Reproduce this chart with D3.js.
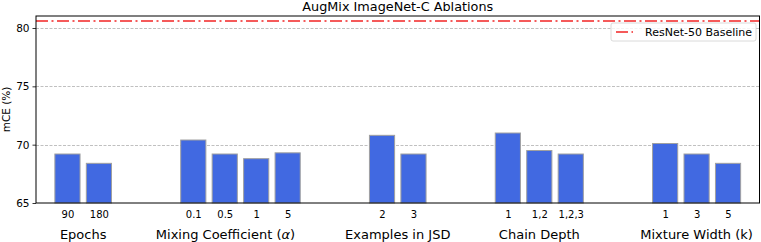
<!DOCTYPE html>
<html>
<head>
<meta charset="utf-8">
<script src="https://cdn.jsdelivr.net/npm/d3@7"></script>
<style>
  body { margin: 0; background: #fff; }
  svg { display: block; font-family: "DejaVu Sans", sans-serif; }
</style>
</head>
<body>
<svg id="canvas" width="761" height="242"></svg>
<script>
// data
let groupNames = ['Epochs', 'Mixing Coefficient', 'Examples in JSD', 'Chain Depth', 'Mixture Width (k)']
let epochLabels = ['90', '180']
let epochValues = [69.2, 68.4]
let mixingLabels = ['0.1', '0.5', '1', '5']
let mixingValues = [70.4, 69.2, 68.8, 69.3]
let jsdLabels = ['2', '3']
let jsdValues = [70.8, 69.2]
let depthLabels = ['1', '1,2', '1,2,3']
let depthValues = [71.0, 69.5, 69.2]
let widthLabels = ['1', '3', '5']
let widthValues = [70.1, 69.2, 68.4]
let baseline = 80.6
let yTicks = [65, 70, 75, 80]

let groupLabels = [epochLabels, mixingLabels, jsdLabels, depthLabels, widthLabels]
let groupValues = [epochValues, mixingValues, jsdValues, depthValues, widthValues]

// flatten into bars, 2 empty slots between groups
let bars = []
let groupCenters = []
let slot = 0
groupValues.forEach((vals, g) => {
    let start = slot
    vals.forEach((v, i) => {
        bars.push({ slot: slot, value: v, label: groupLabels[g][i] })
        slot++
    })
    groupCenters.push({ name: groupNames[g], pos: (start + slot - 1) / 2 })
    slot += 2
})
let nSlots = slot - 2

let plotLeft = 36, plotRight = 759.5, plotTop = 16, plotBottom = 203

let canvas = d3.select('#canvas')

let xScale = d3.scaleLinear()
    .domain([-1, nSlots])
    .range([plotLeft, plotRight])
let slotW = xScale(1) - xScale(0)

let yScale = d3.scaleLinear()
    .domain([65, 81.03])
    .range([plotBottom, plotTop])

// grid
canvas.append('g')
    .selectAll('line')
    .data(yTicks.slice(1))
    .enter()
    .append('line')
    .attr('x1', plotLeft)
    .attr('x2', plotRight)
    .attr('y1', (d) => Math.round(yScale(d)) + 0.5)
    .attr('y2', (d) => Math.round(yScale(d)) + 0.5)
    .attr('stroke', '#b0b0b0')
    .attr('stroke-width', 0.8)
    .attr('stroke-dasharray', '3,1.5')

// bars
canvas.append('g')
    .selectAll('rect')
    .data(bars)
    .enter()
    .append('rect')
    .attr('x', (d) => xScale(d.slot) - slotW * 0.4)
    .attr('width', slotW * 0.8)
    .attr('y', (d) => yScale(d.value))
    .attr('height', (d) => yScale(65) - yScale(d.value))
    .attr('fill', '#4169e1')
    .attr('stroke', '#a0a0a0')
    .attr('stroke-width', 1)

// baseline
canvas.append('line')
    .attr('x1', plotLeft)
    .attr('x2', plotRight)
    .attr('y1', yScale(baseline))
    .attr('y2', yScale(baseline))
    .attr('stroke', '#f55a5a')
    .attr('stroke-width', 2)
    .attr('stroke-dasharray', '12,3.5,2,3.5')

// y axis
let yAxis = d3.axisLeft(yScale)
    .tickValues(yTicks)
    .tickSize(3.5)
    .tickPadding(3)
let yg = canvas.append('g')
    .attr('transform', 'translate(' + plotLeft + ',0)')
    .call(yAxis)
yg.select('.domain').remove()
yg.selectAll('text').attr('font-size', 10.5).attr('fill', '#000').attr('font-family', 'DejaVu Sans')
yg.selectAll('line').attr('stroke', '#000').attr('stroke-width', 0.8)

// x tick labels (no tick marks)
let xAxis = d3.axisBottom(xScale)
    .tickValues(bars.map((b) => b.slot))
    .tickFormat((s) => bars.find((b) => b.slot === s).label)
    .tickSize(0)
    .tickPadding(8)
let xg = canvas.append('g')
    .attr('transform', 'translate(0,' + plotBottom + ')')
    .call(xAxis)
xg.select('.domain').remove()
xg.selectAll('text').attr('font-size', 10).attr('fill', '#000').attr('font-family', 'DejaVu Sans')

// group labels
let gl = canvas.append('g')
    .selectAll('text')
    .data(groupCenters)
    .enter()
    .append('text')
    .attr('x', (d) => xScale(d.pos))
    .attr('y', 238.5)
    .attr('text-anchor', 'middle')
    .attr('font-size', 13)
    .text((d) => d.name)
// the alpha label sits a bit left of its group in the original
let mixLabel = gl.filter((d) => d.name === 'Mixing Coefficient')
mixLabel.attr('dx', -15).text('Mixing Coefficient (')
mixLabel.append('tspan').attr('font-style', 'italic').text('α')
mixLabel.append('tspan').text(')')

// frame
canvas.append('rect')
    .attr('x', plotLeft)
    .attr('y', plotTop)
    .attr('width', plotRight - plotLeft)
    .attr('height', plotBottom - plotTop)
    .attr('fill', 'none')
    .attr('stroke', '#000')
    .attr('stroke-width', 1)

// y label
canvas.append('text')
    .attr('transform', 'translate(10,' + (plotTop + plotBottom) / 2 + ') rotate(-90)')
    .attr('text-anchor', 'middle')
    .attr('font-size', 10.5)
    .text('mCE (%)')

// title
canvas.append('text')
    .attr('x', (plotLeft + plotRight) / 2)
    .attr('y', 11)
    .attr('text-anchor', 'middle')
    .attr('font-size', 12.8)
    .text('AugMix ImageNet-C Ablations')

// legend
let lg = canvas.append('g').attr('transform', 'translate(611,23)')
lg.append('rect')
    .attr('width', 145)
    .attr('height', 18)
    .attr('rx', 2)
    .attr('fill', '#fff')
    .attr('fill-opacity', 0.8)
    .attr('stroke', '#d0d0d0')
    .attr('stroke-width', 0.8)
lg.append('line')
    .attr('x1', 5)
    .attr('x2', 22)
    .attr('y1', 9)
    .attr('y2', 9)
    .attr('stroke', '#f55a5a')
    .attr('stroke-width', 2)
    .attr('stroke-dasharray', '12,3.5,2,3.5')
lg.append('text')
    .attr('x', 34)
    .attr('y', 13)
    .attr('font-size', 11)
    .text('ResNet-50 Baseline')
</script>
</body>
</html>
